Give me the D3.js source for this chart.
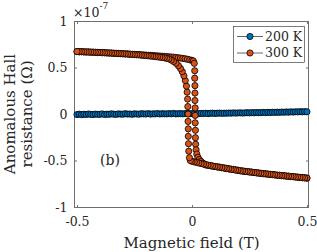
<!DOCTYPE html>
<html>
<head>
<meta charset="utf-8">
<script src="https://cdn.jsdelivr.net/npm/d3@7"></script>
<style>
  body { margin: 0; background: #fff; }
  svg { display: block; }
  text { font-family: "DejaVu Serif", serif; fill: #262626; }
</style>
</head>
<body>
<script>
// 300 K, sweep from -0.5 T up to +0.5 T
let upField = [
  -0.50, -0.49, -0.48, -0.47, -0.46, -0.45, -0.44, -0.43, -0.42, -0.41,
  -0.40, -0.39, -0.38, -0.37, -0.36, -0.35, -0.34, -0.33, -0.32, -0.31,
  -0.30, -0.29, -0.28, -0.27, -0.26, -0.25, -0.24, -0.23, -0.22, -0.21,
  -0.20, -0.19, -0.18, -0.17, -0.16, -0.15, -0.14, -0.13, -0.12, -0.11,
  -0.10, -0.09, -0.08, -0.07, -0.06, -0.05, -0.04, -0.03, -0.02, -0.01, 0.00,
  0.006, 0.010, 0.012, 0.012, 0.013, 0.013, 0.013, 0.014, 0.014, 0.014,
  0.015, 0.015, 0.016, 0.018, 0.021, 0.026, 0.032, 0.039, 0.047, 0.055,
  0.06, 0.07, 0.08, 0.09, 0.10, 0.11, 0.12, 0.13, 0.14, 0.15,
  0.16, 0.17, 0.18, 0.19, 0.20, 0.21, 0.22, 0.23, 0.24, 0.25,
  0.26, 0.27, 0.28, 0.29, 0.30, 0.31, 0.32, 0.33, 0.34, 0.35,
  0.36, 0.37, 0.38, 0.39, 0.40, 0.41, 0.42, 0.43, 0.44, 0.45,
  0.46, 0.47, 0.48, 0.49, 0.50
];
let upValue = [
  0.671, 0.668, 0.670, 0.667, 0.666, 0.667, 0.664, 0.665, 0.662, 0.661,
  0.661, 0.658, 0.659, 0.656, 0.655, 0.655, 0.652, 0.652, 0.649, 0.650,
  0.647, 0.646, 0.646, 0.643, 0.642, 0.641, 0.639, 0.639, 0.636, 0.635,
  0.634, 0.631, 0.631, 0.628, 0.627, 0.625, 0.623, 0.622, 0.619, 0.618,
  0.615, 0.613, 0.611, 0.608, 0.605, 0.602, 0.598, 0.594, 0.589, 0.583, 0.577,
  0.570, 0.545, 0.465, 0.385, 0.305, 0.225, 0.145, 0.065, -0.015, -0.095,
  -0.175, -0.255, -0.325, -0.385, -0.430, -0.465, -0.490, -0.510, -0.527, -0.540,
  -0.548, -0.553, -0.556, -0.562, -0.565, -0.570, -0.572, -0.578, -0.581, -0.585,
  -0.590, -0.593, -0.598, -0.601, -0.606, -0.610, -0.614, -0.616, -0.620, -0.622,
  -0.626, -0.628, -0.633, -0.634, -0.639, -0.641, -0.644, -0.646, -0.650, -0.651,
  -0.655, -0.657, -0.660, -0.662, -0.665, -0.667, -0.670, -0.672, -0.675, -0.676,
  -0.680, -0.681, -0.685, -0.686, -0.690
];

// 300 K, sweep from +0.5 T back down to -0.5 T
let downField = [
  0.50, 0.49, 0.48, 0.47, 0.46, 0.45, 0.44, 0.43, 0.42, 0.41,
  0.40, 0.39, 0.38, 0.37, 0.36, 0.35, 0.34, 0.33, 0.32, 0.31,
  0.30, 0.29, 0.28, 0.27, 0.26, 0.25, 0.24, 0.23, 0.22, 0.21,
  0.20, 0.19, 0.18, 0.17, 0.16, 0.15, 0.14, 0.13, 0.12, 0.11,
  0.10, 0.09, 0.08, 0.07, 0.06, 0.05, 0.04, 0.03, 0.02, 0.01, 0.00,
  -0.007, -0.011, -0.014, -0.015, -0.016, -0.016, -0.017, -0.017, -0.018, -0.019,
  -0.021, -0.024, -0.029, -0.035, -0.042, -0.050, -0.059, -0.069, -0.080, -0.09,
  -0.10, -0.11, -0.12, -0.13, -0.14, -0.15, -0.16, -0.17, -0.18, -0.19,
  -0.20, -0.21, -0.22, -0.23, -0.24, -0.25, -0.26, -0.27, -0.28, -0.29,
  -0.30, -0.31, -0.32, -0.33, -0.34, -0.35, -0.36, -0.37, -0.38, -0.39,
  -0.40, -0.41, -0.42, -0.43, -0.44, -0.45, -0.46, -0.47, -0.48, -0.49, -0.50
];
let downValue = [
  -0.688, -0.687, -0.683, -0.683, -0.678, -0.678, -0.673, -0.673, -0.668, -0.668,
  -0.663, -0.663, -0.658, -0.658, -0.653, -0.652, -0.648, -0.647, -0.642, -0.642,
  -0.637, -0.636, -0.631, -0.630, -0.624, -0.624, -0.618, -0.618, -0.612, -0.611,
  -0.604, -0.603, -0.596, -0.595, -0.588, -0.586, -0.580, -0.577, -0.571, -0.568,
  -0.563, -0.559, -0.554, -0.549, -0.544, -0.538, -0.533, -0.527, -0.521, -0.515, -0.509,
  -0.500, -0.470, -0.400, -0.320, -0.240, -0.160, -0.080, 0.000, 0.080, 0.160,
  0.235, 0.300, 0.360, 0.410, 0.455, 0.490, 0.520, 0.545, 0.565, 0.580,
  0.592, 0.598, 0.604, 0.607, 0.611, 0.614, 0.617, 0.620, 0.623, 0.625,
  0.628, 0.630, 0.633, 0.635, 0.637, 0.639, 0.641, 0.643, 0.645, 0.646,
  0.648, 0.649, 0.651, 0.652, 0.654, 0.655, 0.657, 0.658, 0.659, 0.661,
  0.662, 0.663, 0.664, 0.665, 0.666, 0.667, 0.668, 0.669, 0.670, 0.671, 0.672
];

// 200 K, almost flat around zero
let field200 = [
  -0.50, -0.49, -0.48, -0.47, -0.46, -0.45, -0.44, -0.43, -0.42, -0.41,
  -0.40, -0.39, -0.38, -0.37, -0.36, -0.35, -0.34, -0.33, -0.32, -0.31,
  -0.30, -0.29, -0.28, -0.27, -0.26, -0.25, -0.24, -0.23, -0.22, -0.21,
  -0.20, -0.19, -0.18, -0.17, -0.16, -0.15, -0.14, -0.13, -0.12, -0.11,
  -0.10, -0.09, -0.08, -0.07, -0.06, -0.05, -0.04, -0.03, -0.02, -0.01, 0.00,
  0.01, 0.02, 0.03, 0.04, 0.05, 0.06, 0.07, 0.08, 0.09, 0.10,
  0.11, 0.12, 0.13, 0.14, 0.15, 0.16, 0.17, 0.18, 0.19, 0.20,
  0.21, 0.22, 0.23, 0.24, 0.25, 0.26, 0.27, 0.28, 0.29, 0.30,
  0.31, 0.32, 0.33, 0.34, 0.35, 0.36, 0.37, 0.38, 0.39, 0.40,
  0.41, 0.42, 0.43, 0.44, 0.45, 0.46, 0.47, 0.48, 0.49, 0.50
];
let value200 = [
  -0.006, -0.002, -0.007, -0.003, -0.005, 0.000, -0.004, -0.006, -0.001, -0.004,
  -0.003, 0.001, -0.005, -0.002, -0.003, 0.002, -0.002, -0.004, 0.001, -0.001,
  -0.002, 0.003, -0.001, 0.000, -0.003, 0.002, 0.000, -0.002, 0.003, 0.001,
  0.000, 0.004, -0.001, 0.002, 0.001, 0.005, 0.000, 0.003, 0.002, 0.001,
  0.004, 0.002, 0.006, 0.001, 0.003, 0.005, 0.002, 0.004, 0.006, 0.003, 0.005,
  0.004, 0.007, 0.003, 0.006, 0.005, 0.008, 0.004, 0.007, 0.009, 0.006,
  0.008, 0.010, 0.007, 0.009, 0.008, 0.011, 0.009, 0.012, 0.010, 0.011,
  0.013, 0.010, 0.012, 0.014, 0.012, 0.015, 0.013, 0.016, 0.014, 0.015,
  0.017, 0.015, 0.018, 0.016, 0.019, 0.017, 0.020, 0.018, 0.021, 0.019,
  0.022, 0.020, 0.023, 0.021, 0.024, 0.022, 0.025, 0.023, 0.026, 0.024, 0.027
];

let xTicks = [-0.5, 0, 0.5];
let yTicks = [-1, -0.5, 0, 0.5, 1];

let width = 317;
let height = 252;
let margin = { top: 21, right: 8, bottom: 45, left: 74 };

let series = [
  { name: '200 K', color: '#0072BD', runs: [[field200, value200]] },
  { name: '300 K', color: '#D95319', runs: [[upField, upValue], [downField, downValue]] },
];

let x = d3.scaleLinear()
  .domain([-0.513, 0.509])
  .range([margin.left, width - margin.right]);

let y = d3.scaleLinear()
  .domain([-1, 1])
  .range([height - margin.bottom, margin.top]);

let svg = d3.select('body')
  .append('svg')
  .attr('width', width)
  .attr('height', height);

let axisColor = '#6e6e6e';
let tick = 2.5;
let tickFont = 12.5;

// 坐标轴（刻度朝内，四边都有）
let styleAxis = g => {
  g.select('.domain').remove();
  g.selectAll('.tick line').attr('stroke', axisColor);
  g.selectAll('.tick text')
    .attr('font-family', '"DejaVu Serif", serif')
    .attr('font-size', tickFont)
    .attr('fill', '#262626');
};

svg.append('g')
  .attr('transform', `translate(0,${y(-1) + 0.5})`)
  .call(d3.axisBottom(x).tickValues(xTicks).tickSize(-tick).tickPadding(10).tickFormat(d => String(d)))
  .call(styleAxis);

svg.append('g')
  .attr('transform', `translate(0,${y(1) + 0.5})`)
  .call(d3.axisTop(x).tickValues(xTicks).tickSize(-tick).tickFormat(''))
  .call(styleAxis);

svg.append('g')
  .attr('transform', `translate(${x.range()[0] + 0.5},0)`)
  .call(d3.axisLeft(y).tickValues(yTicks).tickSize(-tick).tickPadding(7).tickFormat(d => String(d)))
  .call(styleAxis);

svg.append('g')
  .attr('transform', `translate(${x.range()[1] - 0.5},0)`)
  .call(d3.axisRight(y).tickValues(yTicks).tickSize(-tick).tickFormat(''))
  .call(styleAxis);

svg.append('rect')
  .attr('x', x.range()[0] + 0.5)
  .attr('y', y(1) + 0.5)
  .attr('width', x.range()[1] - x.range()[0] - 1)
  .attr('height', y(-1) - y(1))
  .attr('fill', 'none')
  .attr('stroke', axisColor)
  .attr('stroke-width', 1);

// 曲线 + 圆点
let line = d3.line()
  .x(d => x(d[0]))
  .y(d => y(d[1]));

series.forEach(s => {
  s.runs.forEach(run => {
    let pts = run[0].map((f, i) => [f, run[1][i]]);
    let g = svg.append('g');
    g.append('path')
      .datum(pts)
      .attr('fill', 'none')
      .attr('stroke', '#000')
      .attr('stroke-width', 0.5)
      .attr('d', line);
    g.selectAll('circle')
      .data(pts)
      .enter()
      .append('circle')
      .attr('cx', d => x(d[0]))
      .attr('cy', d => y(d[1]))
      .attr('r', 3.1)
      .attr('fill', s.color)
      .attr('stroke', '#000')
      .attr('stroke-width', 0.8);
  });
});

// 指数标记 ×10^-7
let expo = svg.append('text')
  .attr('x', x.range()[0] - 1)
  .attr('y', 17)
  .attr('font-size', tickFont);
expo.append('tspan').text('×10');
expo.append('tspan').attr('dy', -8).attr('font-size', 9).text('-7');

// 坐标轴标题
svg.append('text')
  .attr('x', (x.range()[0] + x.range()[1]) / 2)
  .attr('y', 248)
  .attr('text-anchor', 'middle')
  .attr('font-size', 15)
  .text('Magnetic field (T)');

let yMid = (y.range()[0] + y.range()[1]) / 2;
svg.append('text')
  .attr('transform', `translate(15,${yMid}) rotate(-90)`)
  .attr('text-anchor', 'middle')
  .attr('font-size', 15)
  .text('Anomalous Hall');
svg.append('text')
  .attr('transform', `translate(32,${yMid}) rotate(-90)`)
  .attr('text-anchor', 'middle')
  .attr('font-size', 15)
  .text('resistance (Ω)');

svg.append('text')
  .attr('x', 100)
  .attr('y', 165)
  .attr('font-size', 14)
  .text('(b)');

// 图例
let legend = svg.append('g').attr('transform', 'translate(233,26)');
legend.append('rect')
  .attr('x', 0.5)
  .attr('y', 0.5)
  .attr('width', 71)
  .attr('height', 36)
  .attr('fill', '#fff')
  .attr('stroke', '#262626')
  .attr('stroke-width', 0.6);

series.forEach((s, i) => {
  let row = legend.append('g').attr('transform', `translate(0,${10.5 + i * 16.5})`);
  row.append('line')
    .attr('x1', 4).attr('x2', 30)
    .attr('stroke', '#000').attr('stroke-width', 0.6);
  row.append('circle')
    .attr('cx', 17).attr('r', 3.1)
    .attr('fill', s.color)
    .attr('stroke', '#000').attr('stroke-width', 0.8);
  row.append('text')
    .attr('x', 32)
    .attr('dy', '0.35em')
    .attr('font-size', tickFont)
    .text(s.name);
});
</script>
</body>
</html>
